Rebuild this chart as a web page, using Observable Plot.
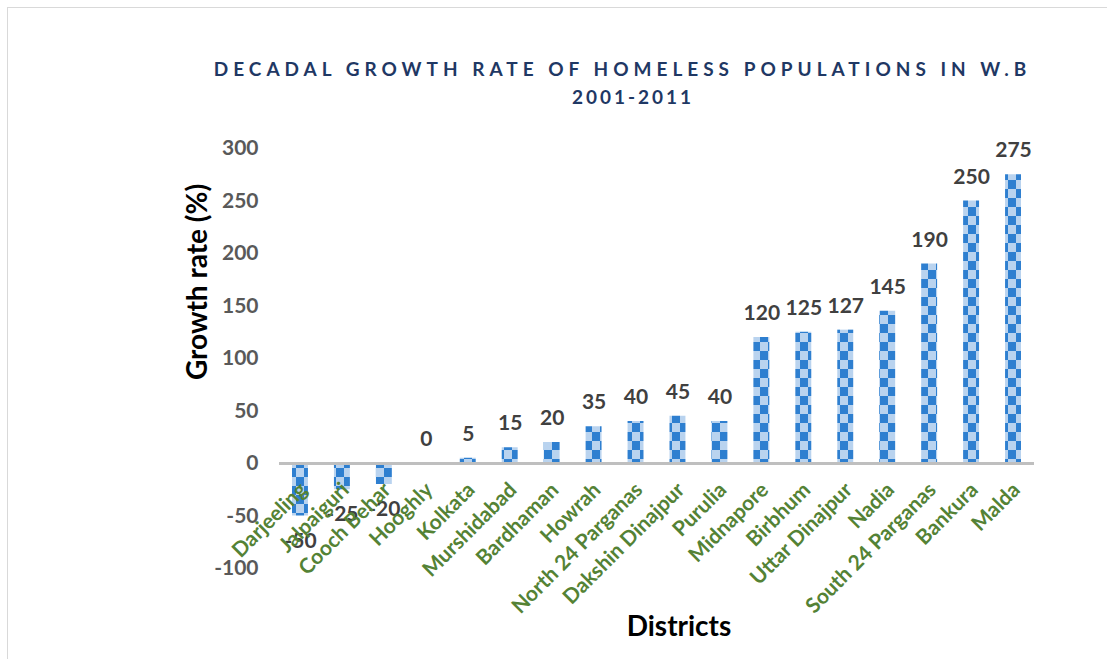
<!DOCTYPE html>
<html>
<head>
<meta charset="utf-8">
<script src="https://cdn.jsdelivr.net/npm/d3@7"></script>
<script src="https://cdn.jsdelivr.net/npm/@observablehq/plot@0.6"></script>
<style>
  html, body { margin: 0; padding: 0; background: #fff; overflow: hidden; }
  #wrap { position: relative; width: 1107px; height: 659px; overflow: hidden; font-family: Lato, "Open Sans", sans-serif; }
  #frame { position: absolute; left: 7px; top: 7px; width: 1300px; height: 900px; border: 1.5px solid #d9d9d9; box-sizing: border-box; }
  #chart { position: absolute; left: 0; top: 0; }
  .title { position: absolute; left: 0; width: 1245px; text-align: center; color: #1f3864; font-weight: bold; font-size: 19px; letter-spacing: 5px; white-space: nowrap; }
  #t2 { letter-spacing: 3px; width: 1266px; }
  #ytitle { position: absolute; left: 196px; top: 282px; transform: translate(-50%, -50%) rotate(-90deg); font-weight: bold; font-size: 28px; color: #000; white-space: nowrap; }
  #xtitle { position: absolute; left: 679px; top: 625px; transform: translate(-50%, -50%); font-weight: bold; font-size: 28px; color: #000; white-space: nowrap; }
</style>
</head>
<body>
<div id="wrap">
  <div id="frame"></div>
  <div id="chart"></div>
  <div class="title" id="t1" style="top:57px">DECADAL GROWTH RATE OF HOMELESS POPULATIONS IN W.B</div>
  <div class="title" id="t2" style="top:85px">2001-2011</div>
  <div id="ytitle">Growth rate (%)</div>
  <div id="xtitle">Districts</div>
</div>
<script>
const districts = ["Darjeeling", "Jalpaiguri", "Cooch Behar", "Hooghly", "Kolkata", "Murshidabad", "Bardhaman", "Howrah", "North 24 Parganas", "Dakshin Dinajpur", "Purulia", "Midnapore", "Birbhum", "Uttar Dinajpur", "Nadia", "South 24 Parganas", "Bankura", "Malda"];
const growth = [-50, -25, -20, 0, 5, 15, 20, 35, 40, 45, 40, 120, 125, 127, 145, 190, 250, 275];
const yTicks = [-100, -50, 0, 50, 100, 150, 200, 250, 300];

const data = districts.map((d, i) => ({district: d, value: growth[i]}));

const chart = Plot.plot({
  width: 1107,
  height: 659,
  marginTop: 148,
  marginBottom: 91,
  marginLeft: 279,
  marginRight: 73,
  style: {fontFamily: "Lato, 'Open Sans', sans-serif", background: "transparent", overflow: "visible"},
  x: {domain: districts, paddingInner: 0.62, paddingOuter: 0.31, round: false, axis: null},
  y: {domain: [-100, 300], axis: null},
  marks: [
    Plot.barY(data, {x: "district", y: "value", fill: "#2e7fd0", className: "checkbars"}),
    Plot.ruleY([0], {stroke: "#bfbfbf", strokeWidth: 3}),
    Plot.text(data.filter(d => d.value >= 0), {x: "district", y: "value", text: d => String(d.value), dy: -24, fontSize: 21, fontWeight: "bold", fill: "#404040"}),
    Plot.text(data.filter(d => d.value < 0), {x: "district", y: "value", text: d => String(d.value), dy: 25, fontSize: 21, fontWeight: "bold", fill: "#404040"}),
    Plot.text(data, {x: "district", y: d => 0, text: "district", rotate: -45, textAnchor: "end", dx: 3, dy: 23, fontSize: 21, fontWeight: "bold", fill: "#548235"}),
    Plot.axisY({ticks: yTicks, tickSize: 0, tickPadding: 21, tickFormat: d => String(d), fontSize: 21, fontWeight: "bold", fill: "#595959", label: null})
  ]
});

const ns = "http://www.w3.org/2000/svg";
const defs = document.createElementNS(ns, "defs");
defs.innerHTML = '<pattern id="checker" patternUnits="userSpaceOnUse" width="16" height="18">' +
  '<rect width="16" height="18" fill="#b9d3ef"/>' +
  '<rect width="8" height="9" fill="#2e7fd0"/>' +
  '<rect x="8" y="9" width="8" height="9" fill="#2e7fd0"/></pattern>';
chart.insertBefore(defs, chart.firstChild);
chart.querySelectorAll(".checkbars rect, g.checkbars rect").forEach(r => r.setAttribute("fill", "url(#checker)"));
document.getElementById("chart").appendChild(chart);
</script>
</body>
</html>
